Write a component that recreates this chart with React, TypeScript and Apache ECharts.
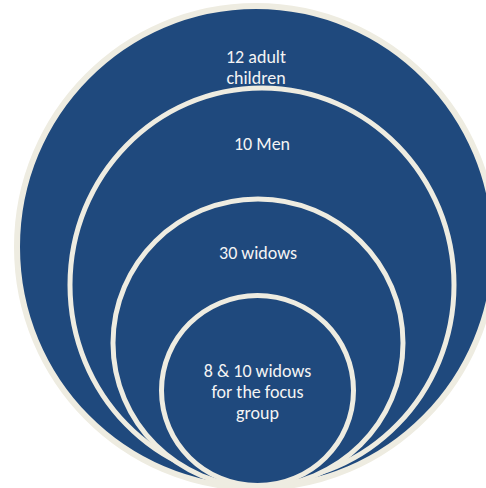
import React, { useEffect, useRef } from "react";
import * as echarts from "echarts";

// Labels of the nested groups, outermost first
const labels: string[] = [
  "12 adult\nchildren",
  "10 Men",
  "30 widows",
  "8 & 10 widows\nfor the focus\ngroup",
];

// Ellipse centres and radii in diagram units (pixels of the 486x488 frame)
const centerX: number[] = [256, 262, 258, 257.5];
const centerY: number[] = [247, 285, 343, 390.5];
const radiusX: number[] = [239, 192, 145, 96];
const radiusY: number[] = [241, 197, 144, 95];
const labelY: number[] = [67, 144, 253, 392];

const FILL = "#1F497D";
const STROKE = "#EEECE1";

export default function App() {
  const ref = useRef<HTMLDivElement>(null);
  useEffect(() => {
    if (!ref.current) return;
    const chart = echarts.init(ref.current, undefined, { renderer: "svg" });
    const data = labels.map((l, i) => [centerX[i], centerY[i], radiusX[i], radiusY[i], labelY[i], i]);
    chart.setOption({
      animation: false,
      backgroundColor: "#ffffff",
      grid: { left: 0, right: 0, top: 0, bottom: 0 },
      xAxis: { type: "value", min: 0, max: 486, show: false },
      yAxis: { type: "value", min: 0, max: 488, inverse: true, show: false },
      series: [
        {
          type: "custom",
          coordinateSystem: "cartesian2d",
          clip: false,
          data,
          renderItem: (params: any, api: any) => {
            const cx = api.value(0);
            const cy = api.value(1);
            const rx = api.value(2);
            const ry = api.value(3);
            const ly = api.value(4);
            const idx = api.value(5);
            const c = api.coord([cx, cy]);
            const e = api.coord([cx + rx, cy + ry]);
            const t = api.coord([cx, ly]);
            return {
              type: "group",
              children: [
                {
                  type: "ellipse",
                  shape: { cx: c[0], cy: c[1], rx: e[0] - c[0], ry: e[1] - c[1] },
                  style: { fill: FILL, stroke: STROKE, lineWidth: idx === 0 ? 6 : 5 },
                },
                {
                  type: "text",
                  x: t[0],
                  y: t[1],
                  style: {
                    text: labels[idx],
                    fill: "#F4F4F4",
                    fontSize: 18,
                    lineHeight: 21,
                    fontFamily: "Carlito, Lato, 'Open Sans', sans-serif",
                    align: "center",
                    verticalAlign: "middle",
                  },
                },
              ],
            };
          },
        },
      ],
    });
    return () => chart.dispose();
  }, []);
  return (
    <div
      ref={ref}
      style={{ position: "fixed", left: 0, top: 0, width: 486, height: 488 }}
    />
  );
}
